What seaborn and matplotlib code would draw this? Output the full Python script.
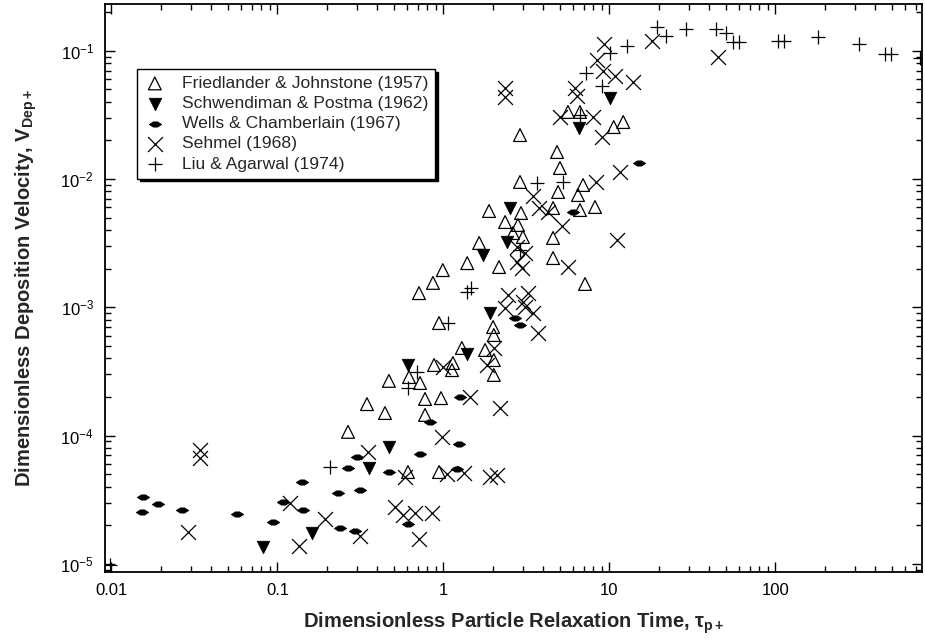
import numpy as np
import matplotlib
matplotlib.use("Agg")
import matplotlib.pyplot as plt
from matplotlib.path import Path
from matplotlib.ticker import LogLocator, FuncFormatter, LogFormatterSciNotation, NullFormatter
import seaborn as sns

sns.set_theme(style="ticks")
plt.rcParams["font.family"] = ["Liberation Sans", "DejaVu Sans"]
plt.rcParams["mathtext.fontset"] = "custom"
plt.rcParams["mathtext.rm"] = "Liberation Sans"
plt.rcParams["mathtext.it"] = "Liberation Sans:italic"
plt.rcParams["mathtext.bf"] = "Liberation Sans:bold"
plt.rcParams["mathtext.default"] = "regular"

# ---- experimental data: dimensionless relaxation time tau_p+ vs deposition velocity V_dep+ ----
fj_tau = [2.89, 5.62, 6.64, 10.6, 12.1, 4.83, 5.03, 4.90, 6.93, 6.46, 2.89, 4.57, 8.18, 6.64,
          1.88, 2.93, 2.35, 2.81, 2.62, 3.01, 4.57, 1.64, 1.39, 2.16, 0.99, 0.864, 0.712, 4.57,
          7.12, 1.99, 2.01, 0.94, 1.29, 1.78, 2.01, 2.01, 0.62, 0.722, 0.469, 0.877, 1.14,
          1.125, 0.346, 0.444, 0.774, 0.966, 0.774, 0.266, 0.611, 0.94]
fj_vdep = [0.0220, 0.0333, 0.0333, 0.0254, 0.0278, 0.01623, 0.01218, 0.00792, 0.00898, 0.0075,
           0.00948, 0.00594, 0.00605, 0.00573, 0.00563, 0.00543, 0.00462, 0.00438, 0.00379,
           0.00353, 0.00347, 0.00317, 0.00221, 0.00206, 0.00195, 0.00155, 0.00129, 0.00242,
           0.00152, 7.02e-4, 6.08e-4, 7.54e-4, 4.82e-4, 4.65e-4, 3.88e-4, 2.97e-4, 2.86e-4,
           2.57e-4, 2.67e-4, 3.55e-4, 3.68e-4, 3.24e-4, 1.76e-4, 1.50e-4, 1.93e-4, 1.96e-4,
           1.45e-4, 1.07e-4, 5.2e-5, 5.2e-5]

sp_tau = [10.07, 6.55, 2.52, 2.41, 1.73, 1.91, 1.39, 0.611, 0.469, 0.356, 0.161, 0.0818]
sp_vdep = [0.0428, 0.02497, 0.00594, 0.00323, 0.00256, 9.03e-4, 4.33e-4, 3.55e-4, 8.15e-5,
           5.59e-5, 1.74e-5, 1.35e-5]

wc_tau = [0.01548, 0.01527, 0.01906, 0.0266, 0.0570, 0.0940, 0.108, 0.1405, 0.1424, 6.03,
          15.05, 2.70, 2.89, 1.257, 0.829, 1.24, 0.301, 0.722, 0.266, 0.469, 1.206, 0.2315,
          0.314, 0.611, 0.238, 0.293]
wc_vdep = [3.35e-5, 2.56e-5, 2.95e-5, 2.65e-5, 2.47e-5, 2.14e-5, 3.06e-5, 4.38e-5, 2.65e-5,
           0.00553, 0.01333, 8.25e-4, 7.28e-4, 2.0e-4, 1.28e-4, 8.6e-5, 6.81e-5, 7.19e-5,
           5.59e-5, 5.2e-5, 5.49e-5, 3.57e-5, 3.77e-5, 2.06e-5, 1.92e-5, 1.82e-5]

se_tau = [0.0341, 0.0341, 0.0289, 0.119, 0.1348, 2.35, 2.35, 6.20, 6.37, 9.27, 8.41, 9.14,
          10.8, 5.03, 7.96, 9.01, 8.29, 3.46, 3.76, 4.26, 11.57, 18.03, 45.0, 13.85, 5.17,
          2.77, 3.10, 2.77, 2.97, 5.62, 11.1, 2.45, 3.23, 2.35, 3.01, 3.10, 3.46, 3.71, 2.01,
          1.83, 0.99, 1.444, 2.19, 0.98, 0.351, 0.586, 1.05, 1.33, 1.91, 2.10, 0.51, 0.57,
          0.674, 0.852, 0.193, 0.314, 0.712]
se_vdep = [7.71e-5, 6.68e-5, 1.77e-5, 2.98e-5, 1.38e-5, 0.0512, 0.0436, 0.0512, 0.0443,
           0.1128, 0.0846, 0.0695, 0.0635, 0.0304, 0.0304, 0.02126, 0.00948, 0.00737, 0.00594,
           0.00553, 0.01134, 0.119, 0.0893, 0.057, 0.0043, 0.00295, 0.00265, 0.00225, 0.00202,
           0.00206, 0.00335, 0.00125, 0.00129, 9.87e-4, 0.0011, 0.001, 9.03e-4, 6.3e-4, 4.82e-4,
           3.55e-4, 3.42e-4, 2.0e-4, 1.64e-4, 9.75e-5, 7.45e-5, 4.76e-5, 5.02e-5, 5.11e-5,
           4.76e-5, 4.93e-5, 2.77e-5, 2.4e-5, 2.49e-5, 2.49e-5, 2.24e-5, 1.65e-5, 1.56e-5]

la_tau = [0.0098, 0.207, 0.69, 0.611, 1.065, 1.39, 1.465, 3.66, 5.25, 2.89, 6.64, 9.01, 7.22,
          10.07, 12.75, 19.3, 21.9, 28.9, 43.8, 50.3, 55.5, 60.3, 103.5, 112.5, 180, 318, 457,
          496, 742]
la_vdep = [9.82e-6, 5.7e-5, 3.13e-4, 2.35e-4, 7.54e-4, 0.001316, 0.001414, 0.0093, 0.00948,
           0.0028, 0.0315, 0.0531, 0.067, 0.096, 0.1088, 0.153, 0.130, 0.1476, 0.1476, 0.1374,
           0.117, 0.117, 0.119, 0.119, 0.128, 0.1128, 0.0943, 0.0943, 0.0877]

labels = ["Friedlander & Johnstone (1957)", "Schwendiman & Postma (1962)",
          "Wells & Chamberlain (1967)", "Sehmel (1968)", "Liu & Agarwal (1974)"]

# flattened diamond used for the Wells & Chamberlain points
flat_diamond = Path([(-1, 0), (-0.35, 0.42), (0.35, 0.42), (1, 0), (0.35, -0.42),
                     (-0.35, -0.42), (-1, 0)], closed=True)

fig = plt.figure(figsize=(9.25, 6.4), dpi=100)
ax = fig.add_axes([105 / 925, 1 - 572 / 640, 817 / 925, 568 / 640])
ax.set_xscale("log")
ax.set_yscale("log")

sns.scatterplot(x=fj_tau, y=fj_vdep, ax=ax, marker="^", s=85, fc="none", ec="black",
                linewidth=0.9, label=labels[0], zorder=3)
sns.scatterplot(x=sp_tau, y=sp_vdep, ax=ax, marker="v", s=80, color="black", ec="black",
                linewidth=0.6, label=labels[1], zorder=3)
sns.scatterplot(x=wc_tau, y=wc_vdep, ax=ax, marker=flat_diamond, s=80, color="black",
                ec="black", linewidth=0.5, label=labels[2], zorder=3)
sns.scatterplot(x=se_tau, y=se_vdep, ax=ax, marker="x", s=115, color="black", ec="black",
                linewidth=0.9, label=labels[3], zorder=3)
sns.scatterplot(x=la_tau, y=la_vdep, ax=ax, marker="+", s=95, color="black", ec="black",
                linewidth=0.9, label=labels[4], zorder=3)

ax.set_xlim(0.00914, 763)
ax.set_ylim(8.65e-6, 0.2312)

ax.xaxis.set_major_locator(LogLocator(base=10, numticks=12))
ax.xaxis.set_minor_locator(LogLocator(base=10, subs=np.arange(2, 10), numticks=12))
ax.xaxis.set_major_formatter(FuncFormatter(lambda v, p: f"{v:g}"))
ax.xaxis.set_minor_formatter(NullFormatter())
ax.yaxis.set_major_locator(LogLocator(base=10, numticks=12))
ax.yaxis.set_minor_locator(LogLocator(base=10, subs=np.arange(2, 10), numticks=12))
ax.yaxis.set_major_formatter(LogFormatterSciNotation())
ax.yaxis.set_minor_formatter(NullFormatter())

ax.tick_params(which="both", direction="in", top=True, right=True, colors="black",
               width=1.0, labelsize=12)
ax.tick_params(which="major", length=7, pad=8)
ax.tick_params(which="minor", length=4)
for sp in ax.spines.values():
    sp.set_color("black")
    sp.set_linewidth(1.3)

ax.set_xlabel(r"Dimensionless Particle Relaxation Time, $\tau_{p+}$", fontsize=14.5,
              fontweight="bold", labelpad=9)
ax.set_ylabel(r"Dimensionless Deposition Velocity, $V_{Dep+}$", fontsize=14.5,
              fontweight="bold", labelpad=15)

leg = ax.legend(loc="upper left", bbox_to_anchor=(0.039, 0.886), borderaxespad=0,
                frameon=True, fancybox=False, shadow={"color": "black", "alpha": 1},
                edgecolor="black", framealpha=1, fontsize=12.6, handletextpad=0.92,
                labelspacing=0.28, borderpad=0.4, handlelength=1.25)
leg.get_frame().set_linewidth(1.0)

fig.savefig("out.png", dpi=100)
